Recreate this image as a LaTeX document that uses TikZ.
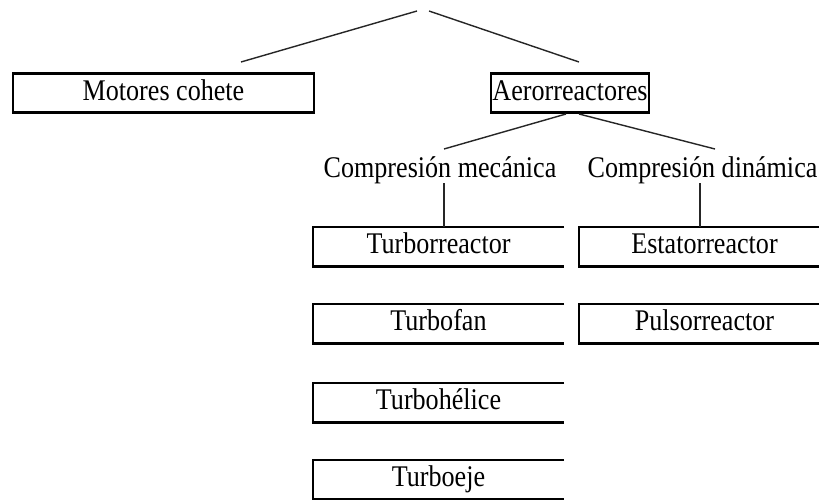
\documentclass[tikz,border=0pt]{standalone}
\usepackage{fontspec}
\setmainfont{Liberation Serif}[FakeStretch=0.87]
\begin{document}
\begin{tikzpicture}[x=1pt,y=-1pt,
  lbl/.style={font=\fontsize{30}{36}\selectfont, inner sep=0pt, anchor=base},
  boxbase/.style={font=\fontsize{30}{36}\selectfont, inner xsep=0pt, inner ysep=0pt,
    text height=26.5pt, text depth=12.5pt, minimum width=#1, anchor=north},
  closedbox/.style={boxbase=#1, draw, line width=2.2pt},
  openbox/.style={boxbase=#1},
  frame/.style={line width=2.2pt, line join=miter},
  conn/.style={line width=1.4pt, black!85}]
\useasboundingbox (0,0) rectangle (819,500);
\fill[white] (0,0) rectangle (819,500);
\clip (0,0) rectangle (819,500);

% top level
\node[closedbox=301pt] (mot) at (163.5,72.5) {Motores cohete};
\node[closedbox=158pt] (aero) at (570,72.5) {Aerorreactores};

% second level labels
\node[lbl] (cm) at (440,177) {Compresión mecánica};
\node[lbl] (cd) at (702.5,177) {Compresión dinámica};

% lower boxes (left column, open on the right)
\node[openbox=251pt] (tr) at (438.5,227) {Turborreactor};
\node[openbox=251pt] (tf) at (438.5,304) {Turbofan};
\node[openbox=251pt] (th) at (438.5,383) {Turbohélice};
\node[openbox=251pt] (te) at (438.5,460) {Turboeje};
% right column
\node[openbox=251pt] (es) at (704.5,227) {Estatorreactor};
\node[openbox=251pt] (pu) at (704.5,304) {Pulsorreactor};

\foreach \n in {tr,tf,th,te}{
  \draw[frame] (\n.north east) -- (\n.north west) -- (\n.south west) -- (\n.south east);
}
\foreach \n in {es,pu}{
  \draw[frame] (\n.north west) rectangle (\n.south east);
}

% connectors
\coordinate (apexL) at (417,11);
\coordinate (apexR) at (429,11);
\coordinate (motEnd) at (241,62);
\coordinate (aeroEnd) at (579,62);
\draw[conn] (apexL) -- (motEnd);
\draw[conn] (apexR) -- (aeroEnd);

\coordinate (aeroL) at (566,114);
\coordinate (aeroR) at (579,114);
\coordinate (cmTop) at (444,149);
\coordinate (cdTop) at (715,149);
\draw[conn] (aeroL) -- (cmTop);
\draw[conn] (aeroR) -- (cdTop);

\coordinate (cmBot) at (444,183);
\coordinate (cdBot) at (700,183);
\draw[conn] (cmBot) -- (cmBot |- tr.north);
\draw[conn] (cdBot) -- (cdBot |- es.north);
\end{tikzpicture}
\end{document}
